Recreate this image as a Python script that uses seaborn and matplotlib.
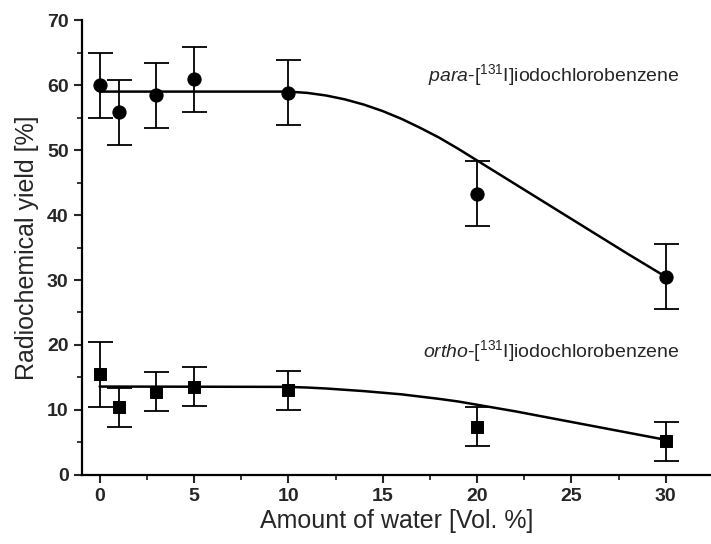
import numpy as np
import pandas as pd
import matplotlib
matplotlib.use("Agg")
import matplotlib.pyplot as plt
import seaborn as sns
from matplotlib.ticker import MultipleLocator

# measured points
water = [0, 1, 3, 5, 10, 20, 30]
para_yield = [60.0, 55.8, 58.4, 60.9, 58.8, 43.3, 30.5]
para_err = [5, 5, 5, 5, 5, 5, 5]
ortho_yield = [15.5, 10.4, 12.8, 13.6, 13.0, 7.4, 5.2]
ortho_err = [5, 3, 3, 3, 3, 3, 3]

# fit curves
fit_x = [0, 10, 11, 12, 13, 14, 15, 16, 17, 18, 19, 20, 22, 24, 26, 28, 30]
para_fit = [59.0, 59.0, 58.8, 58.4, 57.8, 57.0, 56.0, 54.8, 53.4, 51.9, 50.2,
            48.4, 44.8, 41.2, 37.6, 34.0, 30.5]
ortho_fit = [13.6, 13.55, 13.45, 13.3, 13.1, 12.9, 12.65, 12.4, 12.05, 11.7, 11.3,
             10.8, 9.8, 8.7, 7.6, 6.5, 5.4]

sns.set_style("ticks")
plt.rcParams['font.family'] = ['Liberation Sans', 'DejaVu Sans']
plt.rcParams['mathtext.fontset'] = 'custom'
plt.rcParams['mathtext.rm'] = 'Liberation Sans'
plt.rcParams['mathtext.it'] = 'Liberation Sans:italic'

points = pd.DataFrame({'water': water, 'para': para_yield, 'ortho': ortho_yield})
fits = pd.DataFrame({'x': fit_x, 'para': para_fit, 'ortho': ortho_fit})

fig = plt.figure(figsize=(7.11, 5.44), dpi=100)
ax = fig.add_axes([0.115, 0.127, 0.885, 0.836])

sns.lineplot(data=fits, x='x', y='para', color='black', lw=1.8, ax=ax)
sns.lineplot(data=fits, x='x', y='ortho', color='black', lw=1.8, ax=ax)

ax.errorbar(water, para_yield, yerr=para_err, fmt='none', ecolor='black',
            elinewidth=1.3, capsize=9, capthick=1.3)
ax.errorbar(water, ortho_yield, yerr=ortho_err, fmt='none', ecolor='black',
            elinewidth=1.3, capsize=9, capthick=1.3)
sns.scatterplot(data=points, x='water', y='para', marker='o', s=90,
                color='black', edgecolor='black', ax=ax, zorder=5)
sns.scatterplot(data=points, x='water', y='ortho', marker='s', s=75,
                color='black', edgecolor='black', ax=ax, zorder=5)

ax.text(30.75, 61.6, r'$\mathit{para}$-[$^{131}$I]iodochlorobenzene',
        ha='right', va='center', fontsize=14)
ax.text(30.75, 19.0, r'$\mathit{ortho}$-[$^{131}$I]iodochlorobenzene',
        ha='right', va='center', fontsize=14)

ax.set_xlim(-0.95, 32.4)
ax.set_ylim(0, 70)
ax.xaxis.set_major_locator(MultipleLocator(5))
ax.xaxis.set_minor_locator(MultipleLocator(2.5))
ax.yaxis.set_major_locator(MultipleLocator(10))
ax.yaxis.set_minor_locator(MultipleLocator(5))
ax.tick_params(which='major', length=6, width=1.5, labelsize=14, direction='out')
ax.tick_params(which='minor', length=3.5, width=1.3, direction='out')
for lab in ax.get_xticklabels() + ax.get_yticklabels():
    lab.set_fontweight('bold')
for side in ['top', 'right']:
    ax.spines[side].set_visible(False)
for side in ['left', 'bottom']:
    ax.spines[side].set_linewidth(1.6)
    ax.spines[side].set_color('black')

ax.set_xlabel('Amount of water [Vol. %]', fontsize=18, labelpad=3)
ax.set_ylabel('Radiochemical yield [%]', fontsize=18, labelpad=6)

fig.savefig('out.png', dpi=100)
